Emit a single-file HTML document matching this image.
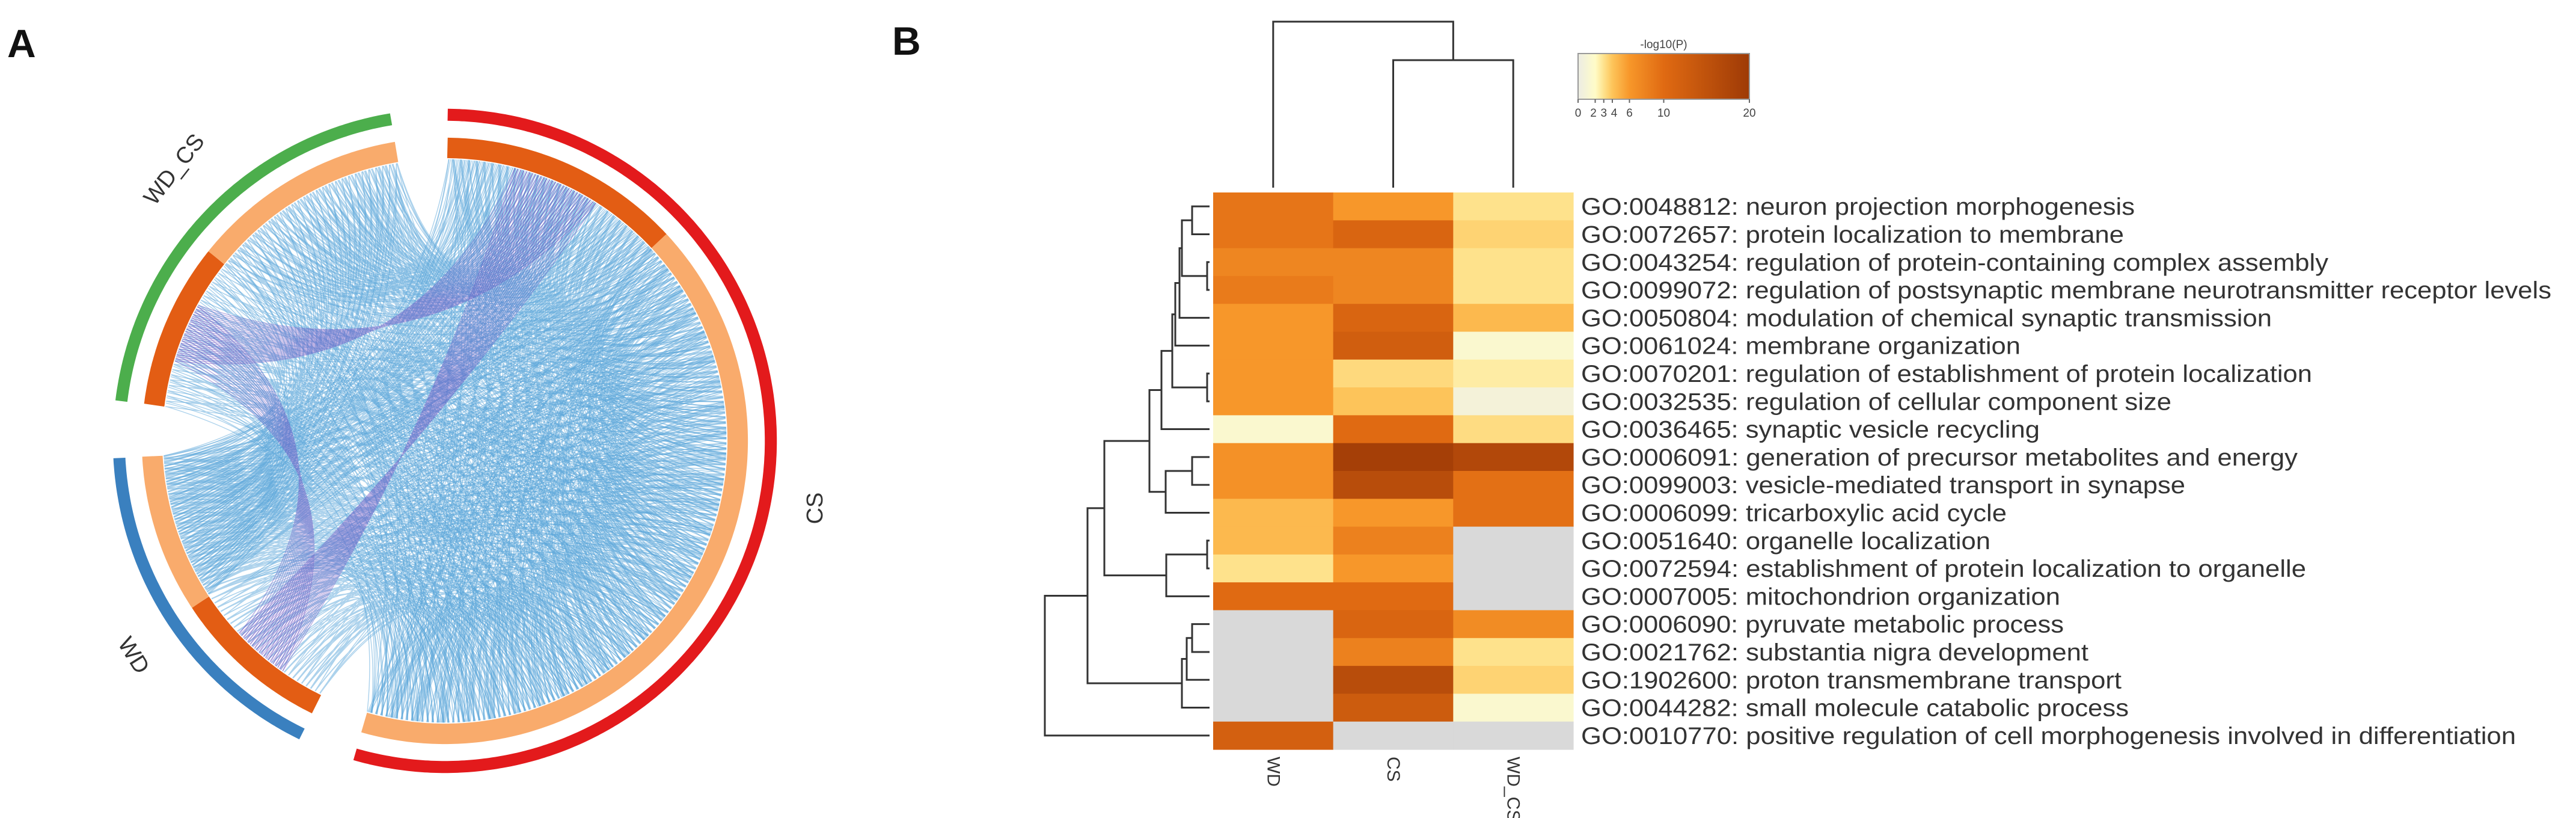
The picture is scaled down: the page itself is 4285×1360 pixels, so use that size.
<!DOCTYPE html>
<html><head><meta charset="utf-8">
<style>
html,body{margin:0;padding:0;background:#fff;}
svg{display:block;font-family:"Liberation Sans",Arial,sans-serif;}
</style></head>
<body>
<svg id="fig" width="4285" height="1360" viewBox="0 0 4285 1360" xmlns="http://www.w3.org/2000/svg">
  <text x="12" y="95" font-size="66" font-weight="bold" fill="#111">A</text>
  <text x="1484" y="91" font-size="66" font-weight="bold" fill="#111">B</text>
  <g id="chord"></g>
  <g id="heat"></g>
</svg>
<script>
// ===== Chord diagram data =====
const chordGroups = ['CS','WD','WD_CS'];
const groupStart = [0.5, 206, 277];
const groupEnd = [196, 267, 350.5];
const groupColors = ['#e31a1c','#3a80bf','#4cae4c'];
const subStart = [0.5, 47, 206, 236.6, 277, 308.7];
const subEnd = [47, 196, 236.6, 267, 308.7, 350.5];
const subColors = ['#e35d14','#f9ab6c','#e35d14','#f9ab6c','#e35d14','#f9ab6c'];
// links: [fromSub, toSub, count, purple?]
const linkFrom = [1,1,1,1,1,1,0,0,3,3,0,0,2];
const linkTo   = [1,0,3,2,5,4,3,5,5,4,2,4,4];
const linkCount= [260,200,170,110,170,100,90,90,60,30,30,30,20];
const linkPurple=[0,0,0,0,0,0,0,0,0,0,1,1,1];

// ===== Heatmap data =====
const rowLabels = [
"GO:0048812: neuron projection morphogenesis",
"GO:0072657: protein localization to membrane",
"GO:0043254: regulation of protein-containing complex assembly",
"GO:0099072: regulation of postsynaptic membrane neurotransmitter receptor levels",
"GO:0050804: modulation of chemical synaptic transmission",
"GO:0061024: membrane organization",
"GO:0070201: regulation of establishment of protein localization",
"GO:0032535: regulation of cellular component size",
"GO:0036465: synaptic vesicle recycling",
"GO:0006091: generation of precursor metabolites and energy",
"GO:0099003: vesicle-mediated transport in synapse",
"GO:0006099: tricarboxylic acid cycle",
"GO:0051640: organelle localization",
"GO:0072594: establishment of protein localization to organelle",
"GO:0007005: mitochondrion organization",
"GO:0006090: pyruvate metabolic process",
"GO:0021762: substantia nigra development",
"GO:1902600: proton transmembrane transport",
"GO:0044282: small molecule catabolic process",
"GO:0010770: positive regulation of cell morphogenesis involved in differentiation"];
const colLabels = ['WD','CS','WD_CS'];
const valWD   = [9,9,7.5,8.5,6,6,6,6,1.5,6.5,6.5,4.5,4.5,3,10,null,null,null,null,12];
const valCS   = [6,11,7.5,7.5,11,12.5,3.3,4,10,19,16,6,8,6,10,11,8,16,13,null];
const valWDCS = [3,3.5,3,3,4.5,1.5,2.6,0.8,3.2,17,9.5,9.5,null,null,null,7,3,3.5,1.5,null];
const cbTicks = [0,2,3,4,6,10,20];
const cbStops = [0,2,3,4,6,10,20];
const cbColors = ['#ecece4','#fffcc8','#fee28c','#fdc45a','#f7972a','#e06a12','#9e3a06'];
// row dendrogram merges: [left, right, heightX]
const rowMerges = [[0,1,1983],[2,3,2008],[20,21,1966],[22,4,1962],[23,5,1955],[6,7,2008],[24,25,1950],[26,8,1932],
[9,10,1983],[28,11,1939],[27,29,1912],[12,13,2008],[31,14,1940],[30,32,1837],[15,16,1983],[34,17,1974],[35,18,1966],[33,36,1809],[37,19,1738]];
const colMerges = [[1,2,100],[0,3,36]];
// rendered label lengths (layout, px)
const labelLen = [885,868,1185,1530,1097,708,1160,942,738,1137,963,687,662,1150,770,775,813,865,876,1475].map(e=>(e-28)/0.9306);

const NS='http://www.w3.org/2000/svg';
function mk(tag, attrs, parent){const e=document.createElementNS(NS,tag);for(const k in attrs)e.setAttribute(k,attrs[k]);parent.appendChild(e);return e;}

// ---------- chord ----------
const chord=document.getElementById('chord');
const cx=740, cy=733, RX=551, RY=551;
function pt(tdeg,r){const t=tdeg*Math.PI/180;return [cx+RX*r*Math.sin(t), cy-RY*r*Math.cos(t)];}
function arcPath(a0,a1,r){let d='';const n=Math.max(8,Math.ceil((a1-a0)*2));for(let i=0;i<=n;i++){const p=pt(a0+(a1-a0)*i/n,r);d+=(i?'L':'M')+p[0].toFixed(1)+','+p[1].toFixed(1);}return d;}
const linkLayer=mk('g',{},chord);


const phi=0.6180339887;
let seq=0;
function frac(k){return (k*phi)%1;}
for(let g=0;g<linkFrom.length;g++){
  const a=linkFrom[g], b=linkTo[g], n=linkCount[g];
  let d='';
  for(let i=0;i<n;i++){
    seq++;
    const fa=frac(seq*7+3), fb=frac(seq*13+11);
    const ta=subStart[a]+(subEnd[a]-subStart[a])*(linkPurple[g]? (0.3+0.4*(i/n)) : fa);
    const tb=subStart[b]+(subEnd[b]-subStart[b])*(linkPurple[g]? (0.3+0.4*(i/n)) : fb);
    const p=pt(ta,0.85), q=pt(tb,0.85);
    const mx=(p[0]+q[0])/2, my=(p[1]+q[1])/2;
    const c=[cx+(mx-cx)*0.3, cy+(my-cy)*0.3];
    d+='M'+p[0].toFixed(1)+','+p[1].toFixed(1)+'Q'+c[0].toFixed(1)+','+c[1].toFixed(1)+' '+q[0].toFixed(1)+','+q[1].toFixed(1);
  }
  const path=mk('path',{d:d,fill:'none',stroke:linkPurple[g]?'#6a4fc0':'#5aa6da','stroke-width':1.4,'stroke-opacity':linkPurple[g]?0.45:0.5},linkLayer);
  
  
}
for(let i=0;i<subStart.length;i++){
  const p=mk('path',{d:arcPath(subStart[i],subEnd[i],0.884),fill:'none',stroke:subColors[i],'stroke-width':34},chord);
  
  
}
for(let i=0;i<chordGroups.length;i++){
  const p=mk('path',{d:arcPath(groupStart[i],groupEnd[i],0.984),fill:'none',stroke:groupColors[i],'stroke-width':20},chord);
  
  
}
const gl=[['WD_CS',290,282,-52],['CS',1356,845,-90],['WD',222,1090,58]];
gl.forEach(l=>{const t=mk('text',{x:l[1],y:l[2],'font-size':38,fill:'#333','text-anchor':'middle','dominant-baseline':'central',transform:'rotate('+l[3]+' '+l[1]+' '+l[2]+')'},chord);t.textContent=l[0];
  
  });

// ---------- heatmap ----------
const heat=document.getElementById('heat');
const HX0=2018, HX1=2617, HY0=320, HY1=1246;
const nR=rowLabels.length, nC=colLabels.length;
const cw=(HX1-HX0)/nC, rh=(HY1-HY0)/nR;
function xCol(c){return HX0+c*cw;}
function yRow(r){return HY0+r*rh;}
function hex2rgb(h){return [1,3,5].map(i=>parseInt(h.substr(i,2),16));}
function colorOf(v){
  if(v===null) return '#d9d9d9';
  if(v>=cbStops[cbStops.length-1]) return cbColors[cbColors.length-1];
  for(let i=0;i<cbStops.length-1;i++){if(v<=cbStops[i+1]){const f=(v-cbStops[i])/(cbStops[i+1]-cbStops[i]);const a=hex2rgb(cbColors[i]),b=hex2rgb(cbColors[i+1]);return 'rgb('+a.map((x,k)=>Math.round(x+(b[k]-x)*f)).join(',')+')';}}
}
const cols=[valWD,valCS,valWDCS];
for(let c=0;c<nC;c++)for(let r=0;r<nR;r++){
  const e=mk('rect',{x:xCol(c),y:yRow(r),width:cw+0.6,height:rh+0.6,fill:colorOf(cols[c][r])},heat);
  
  
}
for(let r=0;r<nR;r++){
  const t=mk('text',{x:2630,y:yRow(r)+rh/2+14,'font-size':40,fill:'#333',textLength:labelLen[r].toFixed(0),lengthAdjust:'spacingAndGlyphs'},heat);
  t.textContent=rowLabels[r];
  
  
}
for(let c=0;c<nC;c++){
  const x=xCol(c)+cw/2, y=1258;
  const t=mk('text',{x:x,y:y,'font-size':30,fill:'#333','dominant-baseline':'central',transform:'rotate(90 '+x+' '+y+')'},heat);
  t.textContent=colLabels[c];
  
  
}
// row dendrogram
const rowPos=[];for(let r=0;r<nR;r++)rowPos.push([2012,yRow(r)+rh/2]);
let dd='';
rowMerges.forEach(m=>{const a=rowPos[m[0]],b=rowPos[m[1]],h=m[2];
  dd+='M'+a[0]+','+a[1]+'H'+h+'V'+b[1]+'H'+b[0];rowPos.push([h,(a[1]+b[1])/2]);});
const rd=mk('path',{d:dd,fill:'none',stroke:'#333','stroke-width':3},heat);


// column dendrogram
const colPos=[];for(let c=0;c<nC;c++)colPos.push([xCol(c)+cw/2,312]);
let cd='';
colMerges.forEach(m=>{const a=colPos[m[0]],b=colPos[m[1]],h=m[2];
  cd+='M'+a[0]+','+a[1]+'V'+h+'H'+b[0]+'V'+b[1];colPos.push([(a[0]+b[0])/2,h]);});
const cdp=mk('path',{d:cd,fill:'none',stroke:'#333','stroke-width':3},heat);


// colorbar
const CB0=2625, CB1=2910, CBY0=89, CBY1=165;
function xCb(v){return CB0+(CB1-CB0)*v/20;}
const defs=mk('defs',{},heat);
const lg=mk('linearGradient',{id:'cbg',x1:0,x2:1,y1:0,y2:0},defs);
cbStops.forEach((s,i)=>mk('stop',{offset:s/20,'stop-color':cbColors[i]},lg));
const cb=mk('rect',{x:CB0,y:CBY0,width:CB1-CB0,height:CBY1-CBY0,fill:'url(#cbg)',stroke:'#999','stroke-width':2},heat);


const cbt=mk('text',{x:(CB0+CB1)/2,y:80,'font-size':19,fill:'#444','text-anchor':'middle'},heat);
cbt.textContent='-log10(P)';


cbTicks.forEach(v=>{
  const l=mk('line',{x1:xCb(v),x2:xCb(v),y1:CBY1,y2:CBY1+6,stroke:'#666','stroke-width':2},heat);
  
  
  const t=mk('text',{x:xCb(v)+(v===2?-3:v===4?3:0),y:194,'font-size':19,fill:'#444','text-anchor':'middle'},heat);
  t.textContent=v;
  
  
});
</script>
</body></html>
